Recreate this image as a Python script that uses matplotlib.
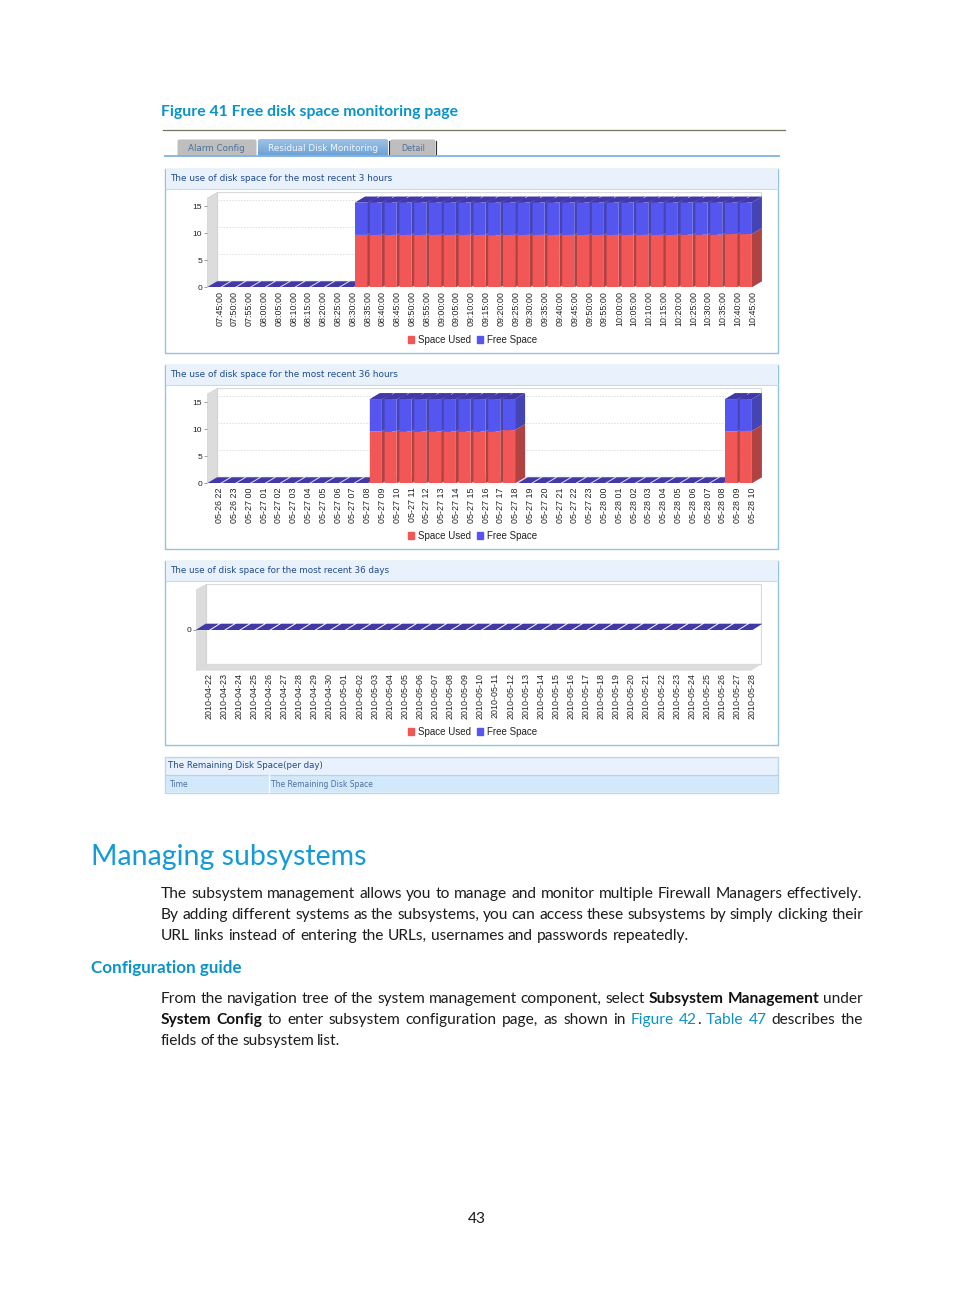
import matplotlib
matplotlib.use("Agg")
import matplotlib.pyplot as plt
from matplotlib.patches import Rectangle, Polygon, FancyBboxPatch, Patch
import numpy as np

# ---------- data ----------
labels_3h = ["07:45:00","07:50:00","07:55:00","08:00:00","08:05:00","08:10:00","08:15:00","08:20:00","08:25:00","08:30:00",
             "08:35:00","08:40:00","08:45:00","08:50:00","08:55:00","09:00:00","09:05:00","09:10:00","09:15:00","09:20:00",
             "09:25:00","09:30:00","09:35:00","09:40:00","09:45:00","09:50:00","09:55:00","10:00:00","10:05:00","10:10:00",
             "10:15:00","10:20:00","10:25:00","10:30:00","10:35:00","10:40:00","10:45:00"]
used_3h = [0,0,0,0,0,0,0,0,0,0,
           9.7,9.7,9.7,9.7,9.7,9.7,9.7,9.7,9.7,9.65,
           9.7,9.7,9.7,9.7,9.7,9.7,9.7,9.7,9.7,9.7,
           9.7,9.7,9.75,9.75,9.75,9.85,9.85]
free_3h = [0,0,0,0,0,0,0,0,0,0,
           6.0,6.0,6.0,6.0,6.0,6.0,6.0,6.0,6.0,6.05,
           6.0,6.0,6.0,6.0,6.0,6.0,6.0,6.0,6.0,6.0,
           6.0,6.0,5.95,5.95,5.95,5.85,5.85]

labels_36h = ["05-26 22","05-26 23","05-27 00","05-27 01","05-27 02","05-27 03","05-27 04","05-27 05","05-27 06","05-27 07",
              "05-27 08","05-27 09","05-27 10","05-27 11","05-27 12","05-27 13","05-27 14","05-27 15","05-27 16","05-27 17",
              "05-27 18","05-27 19","05-27 20","05-27 21","05-27 22","05-27 23","05-28 00","05-28 01","05-28 02","05-28 03",
              "05-28 04","05-28 05","05-28 06","05-28 07","05-28 08","05-28 09","05-28 10"]
used_36h = [0,0,0,0,0,0,0,0,0,0,0,
            9.6,9.6,9.6,9.6,9.6,9.6,9.6,9.6,9.6,9.85,
            0,0,0,0,0,0,0,0,0,0,0,0,0,0,
            9.6,9.7]
free_36h = [0,0,0,0,0,0,0,0,0,0,0,
            6.0,6.0,6.0,6.0,6.0,6.0,6.0,6.0,6.0,5.75,
            0,0,0,0,0,0,0,0,0,0,0,0,0,0,
            6.0,5.9]

labels_36d = ["2010-04-22","2010-04-23","2010-04-24","2010-04-25","2010-04-26","2010-04-27","2010-04-28","2010-04-29","2010-04-30",
              "2010-05-01","2010-05-02","2010-05-03","2010-05-04","2010-05-05","2010-05-06","2010-05-07","2010-05-08","2010-05-09",
              "2010-05-10","2010-05-11","2010-05-12","2010-05-13","2010-05-14","2010-05-15","2010-05-16","2010-05-17","2010-05-18",
              "2010-05-19","2010-05-20","2010-05-21","2010-05-22","2010-05-23","2010-05-24","2010-05-25","2010-05-26","2010-05-27","2010-05-28"]
used_36d = [0]*37
free_36d = [0]*37

W, H = 954, 1296
RED, BLUE = "#F25757", "#5555F0"
RED_S, BLUE_S, TOP = "#B04242", "#4444B4", "#4238A8"
WALL = "#DCDCDC"
TXT = "#1F4B8E"
LINK = "#0A93C9"
BODY = "#1c1c1c"
SANS = "Liberation Sans"
PX_PER_UNIT = 5.4

fig = plt.figure(figsize=(W/100, H/100), dpi=100, facecolor="white")
page = fig.add_axes([0, 0, 1, 1], zorder=0)
page.set_xlim(0, W); page.set_ylim(H, 0); page.axis("off")
rend = fig.canvas.get_renderer()

def width_of(s, **kw):
    t = page.text(0, 0, s, **kw)
    w = t.get_window_extent(rend).width
    t.remove()
    return w

def fit_text(x0, x1, y, s, color, family="DejaVu Sans", weight="normal", zorder=5):
    w = width_of(s, fontsize=10, family=family, weight=weight)
    fs = 10 * (x1 - x0) / w
    page.text(x0, y, s, fontsize=fs, family=family, weight=weight, color=color, va="center", ha="left", zorder=zorder)
    return fs

def rect(x0, y0, x1, y1, fc="none", ec="none", lw=0.0, z=1):
    page.add_patch(Rectangle((x0, y0), x1 - x0, y1 - y0, fc=fc, ec=ec, lw=lw, zorder=z))

def chart(bottom_px, top_px, left_px, right_px, floor_px, labels, used, free, cat_w, bar_w, zero_w, tick_off, yticks, pad, depth_x, depth_y):
    ax = fig.add_axes([left_px/W, 1 - bottom_px/H, (right_px-left_px)/W, (bottom_px-top_px)/H], zorder=2)
    ax.patch.set_alpha(0)
    for s in ax.spines.values():
        s.set_visible(False)
    y_min = -(bottom_px - floor_px) / PX_PER_UNIT
    ax.set_xlim(0, (right_px - left_px) / cat_w)
    ax.set_ylim(y_min, y_min + (bottom_px - top_px) / PX_PER_UNIT)
    dx = depth_x / cat_w
    dy = depth_y / PX_PER_UNIT
    bw = bar_w / cat_w
    zw = zero_w / cat_w
    x_end = (right_px - left_px) / cat_w
    y_top = y_min + (bottom_px - top_px) / PX_PER_UNIT
    wall_dx = 10.5 / cat_w
    wall_dy = 6.5 / PX_PER_UNIT
    ax.add_patch(Rectangle((wall_dx, y_min + wall_dy), x_end - wall_dx - 0.02, y_top - y_min - wall_dy - 0.03,
                           fc="white", ec="#DADADA", lw=0.9, zorder=1))
    ax.add_patch(Polygon([(0, y_min), (wall_dx, y_min + wall_dy), (wall_dx, y_top), (0, y_top - 1.1)], fc=WALL, ec="#CFCFCF", lw=0.4, zorder=1.1))
    ax.add_patch(Polygon([(0, y_min), (wall_dx, y_min + wall_dy), (x_end, y_min + wall_dy), (x_end - wall_dx, y_min)], fc=WALL, ec="none", zorder=1.1))
    for v in yticks:
        if v > 0:
            ax.plot([wall_dx, x_end], [v + dy, v + dy], color="#DDDDDD", lw=0.7, ls=(0, (1.5, 1.5)), zorder=1.2)
    x = np.arange(len(labels))
    totals = [u + f for u, f in zip(used, free)]
    for i, (u, f) in enumerate(zip(used, free)):
        t = u + f
        if t > 0:
            ax.add_patch(Polygon([(i+bw, 0), (i+bw+dx, dy), (i+bw+dx, u+dy), (i+bw, u)], fc=RED_S, ec="none", zorder=2))
            ax.add_patch(Polygon([(i+bw, u), (i+bw+dx, u+dy), (i+bw+dx, t+dy), (i+bw, t)], fc=BLUE_S, ec="none", zorder=2))
            nxt = i + 1 < len(totals) and totals[i + 1] > 0
            back = bw + dx + (2.2 / cat_w if nxt else 0)
            ax.add_patch(Polygon([(i, t), (i+dx, t+dy), (i+back, t+dy), (i+bw, t)], fc=TOP, ec="none", zorder=2.1))
        else:
            ax.add_patch(Polygon([(i, 0), (i+dx, dy), (i+zw+dx, dy), (i+zw, 0)], fc=TOP, ec="none", zorder=2.1))
    ax.bar(x, used, width=bw, align="edge", color=RED, zorder=3, linewidth=0, snap=False)
    ax.bar(x, free, width=bw, bottom=used, align="edge", color=BLUE, zorder=3, linewidth=0, snap=False)
    ax.set_xticks(x + tick_off)
    ax.set_xticklabels(labels, rotation=90, fontsize=6.4, family=SANS, color="#222222")
    ax.set_yticks(yticks)
    ax.set_yticklabels([str(v) for v in yticks], fontsize=6.1, family=SANS, color="#222222")
    ax.tick_params(axis="x", length=0, pad=pad)
    ax.tick_params(axis="y", length=2.2, width=0.5, color="#777777", pad=1.2)
    return ax

def panel(y0, y1, head_y, title, title_x1):
    rect(165.5, y0, 778.5, y1, fc="white", ec="#8FC4DE", lw=1.0, z=1)
    rect(166, y0 + 0.5, 778, head_y, fc="#E9F1FC", z=1.1)
    page.plot([166, 778], [head_y, head_y], color="#C5DCEE", lw=0.8, zorder=1.2)
    fit_text(170, title_x1, (y0 + head_y)/2 + 0.2, title, TXT)

def legend(ax, y):
    h = [Patch(color=RED, label="Space Used"), Patch(color=BLUE, label="Free Space")]
    ax.legend(handles=h, ncol=2, frameon=False, loc="center", bbox_to_anchor=(472.3/W, 1 - y/H), bbox_transform=fig.transFigure,
              prop={"family": SANS, "size": 7.0}, handlelength=0.62, handleheight=0.62, handletextpad=0.4,
              columnspacing=0.6, borderpad=0, borderaxespad=0, labelcolor="#222222")

# ---------- heading and tabs ----------
fit_text(161, 458, 111.8, "Figure 41 Free disk space monitoring page", LINK, family="Lato", weight="bold")
page.plot([163, 785], [130.2, 130.2], color="#77745F", lw=0.9, zorder=1)
for x0, x1, fc in [(177.5, 256.5, "#BEBEBE"), (390, 435.5, "#BEBEBE")]:
    page.add_patch(FancyBboxPatch((x0, 139.5), x1-x0, 17, boxstyle="round,pad=0,rounding_size=2", fc=fc, ec="none", zorder=1))
act = FancyBboxPatch((258, 139.3), 130, 17, boxstyle="round,pad=0,rounding_size=2", fc="#7FB0DE", ec="none", zorder=1)
page.add_patch(act)
im = page.imshow(np.linspace(0, 1, 16)[:, None], extent=(258, 388, 155, 139.3), aspect="auto", zorder=1.1,
                 cmap=matplotlib.colors.LinearSegmentedColormap.from_list("t", ["#9CC3E8", "#6EA3D6"]))
im.set_clip_path(act)
page.set_xlim(0, W); page.set_ylim(H, 0)
page.plot([388.7, 388.7], [141, 155], color="#333333", lw=0.8, zorder=1.2)
page.plot([435.7, 435.7], [141, 155], color="#333333", lw=0.8, zorder=1.2)
page.plot([165, 779], [155.8, 155.8], color="#7FB2DC", lw=1.3, zorder=1.3)
fit_text(188.5, 245.5, 148.5, "Alarm Config", "#4E6F9E")
fit_text(268.5, 378, 148.5, "Residual Disk Monitoring", "#F2F7FC")
fit_text(401, 425, 148.5, "Detail", "#4E6F9E")

# ---------- chart panels ----------
panel(168.5, 352.5, 188.8, "The use of disk space for the most recent 3 hours", 391.5)
a1 = chart(287.3, 192.3, 207, 761.5, 287.3, labels_3h, used_3h, free_3h, 14.8, 12.1, 12.8, 0.86, [0, 5, 10, 15], 3.0, 10, 6)
legend(a1, 340)

panel(364.5, 548.5, 384.6, "The use of disk space for the most recent 36 hours", 396.5)
a2 = chart(483.3, 388.3, 207, 761.5, 483.3, labels_36h, used_36h, free_36h, 14.8, 12.1, 12.8, 0.86, [0, 5, 10, 15], 3.0, 10, 6)
legend(a2, 536)

panel(560.5, 744.5, 580.6, "The use of disk space for the most recent 36 days", 390.5)
a3 = chart(670.7, 584.3, 195.7, 761.5, 630, labels_36d, used_36d, free_36d, 15.1, 13.2, 13.2, 0.85, [0], 1.4, 10, 6.3)
legend(a3, 732)

# ---------- table ----------
rect(165.5, 756.5, 778.5, 792.5, fc="#E9F1FC", ec="#BCD7EC", lw=1.0, z=1)
rect(166, 775, 778, 792, fc="#D2E8FB", z=1.1)
page.plot([166, 778], [774.5, 774.5], color="#B7D3E8", lw=0.9, zorder=1.2)
page.plot([269.3, 269.3], [775, 792], color="white", lw=1.0, zorder=1.3)
fit_text(168, 323, 765.3, "The Remaining Disk Space(per day)", TXT)
table_fs = fit_text(271, 372, 784.5, "The Remaining Disk Space", "#4E6F9E")
page.text(170, 784.5, "Time", fontsize=table_fs, family="DejaVu Sans", color="#4E6F9E", va="center", ha="left", zorder=5)

# ---------- page text ----------
FONT = "Lato"
fit_text(91, 366, 857, "Managing subsystems", "#149BD7", family=FONT, weight="normal")
fit_text(91, 242, 968, "Configuration guide", LINK, family=FONT, weight="bold")
base = 10 * 701 / width_of("The subsystem management allows you to manage and monitor multiple Firewall Managers effectively.", fontsize=10, family=FONT)

def line(y, x0, x1, runs):
    words = []
    for txt, col, wt in runs:
        for w in txt.split(" "):
            words.append((w, col, wt))
    ws = [width_of(w, fontsize=base, family=FONT, weight=wt) for w, _, wt in words]
    attached = [w == "." for w, _, _ in words]
    gap = ((x1 - x0) - sum(ws)) / (len(words) - 1 - sum(attached))
    x = x0
    for k, ((w, col, wt), wd) in enumerate(zip(words, ws)):
        if attached[k]:
            x -= gap
        page.text(x, y, w, fontsize=base, family=FONT, weight=wt, color=col, va="baseline", ha="left", zorder=5)
        x += wd + gap

n, b = "normal", "bold"
line(898, 161, 862, [("The subsystem management allows you to manage and monitor multiple Firewall Managers effectively.", BODY, n)])
line(919, 161, 863, [("By adding different systems as the subsystems, you can access these subsystems by simply clicking their", BODY, n)])
line(940, 161, 689, [("URL links instead of entering the URLs, usernames and passwords repeatedly.", BODY, n)])
line(1003, 161, 863, [("From the navigation tree of the system management component, select", BODY, n), ("Subsystem Management", "#111111", b), ("under", BODY, n)])
line(1024, 161, 863, [("System Config", "#111111", b), ("to enter subsystem configuration page, as shown in", BODY, n),
                      ("Figure 42", LINK, n), (".", BODY, n), ("Table 47", LINK, n), ("describes the", BODY, n)])
line(1045, 161, 340, [("fields of the subsystem list.", BODY, n)])
page.text(477, 1219, "43", fontsize=base, family=FONT, color=BODY, ha="center", va="center")

fig.savefig("out.png", dpi=100, facecolor="white")
